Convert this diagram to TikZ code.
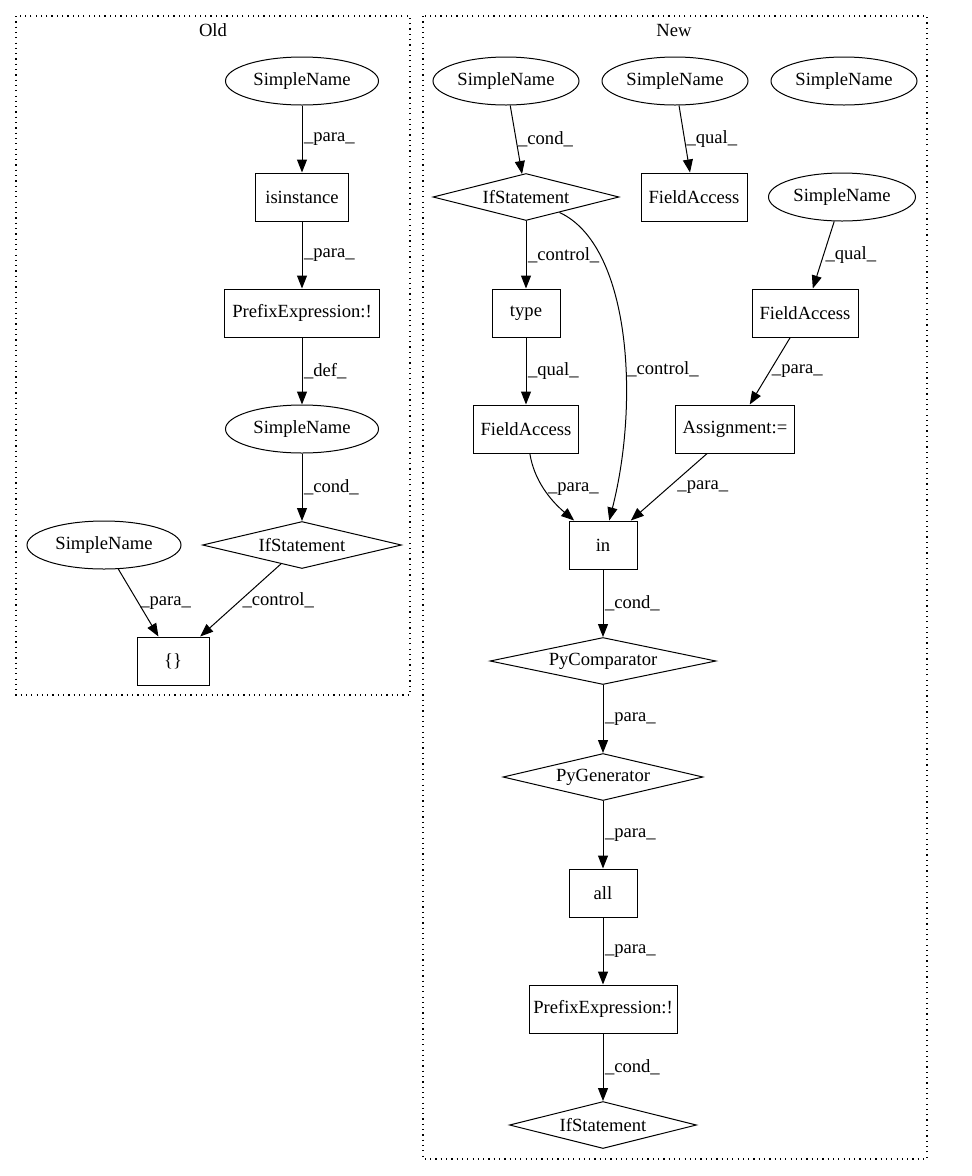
\documentclass[tikz,border=0pt]{standalone}
\usepackage{fontspec}
\setmainfont{Liberation Serif}
\usepackage{tikz}
\usetikzlibrary{arrows.meta, shapes.geometric}
\tikzstyle{arr}=[-{Triangle[length=13pt,width=10pt]},line width=1pt]
\tikzstyle{clus}=[line width=1.2pt,dash pattern=on 1.2pt off 4.1pt]
\tikzstyle{sname}=[ellipse,draw,line width=1pt,minimum width=150pt,minimum height=48pt,inner sep=0pt]
\tikzstyle{op}=[rectangle,draw,line width=1pt,minimum height=48pt,inner sep=0pt]
\tikzstyle{stmt}=[diamond,draw,line width=1pt,aspect=4,minimum height=47pt,inner sep=0pt]
\tikzstyle{lbl}=[right,inner sep=1.5pt]

\begin{document}
\begin{tikzpicture}[x=1pt,y=-1pt,font=\fontsize{18.6pt}{21pt}\selectfont]
  \useasboundingbox (0,0) rectangle (972,1176);
  % clusters
  \draw[clus] (16,16) rectangle (410,695);
  \draw[clus] (423,16) rectangle (927,1159);
  \node (oldlbl) at (213,30) {Old};
  \node (newlbl) at (674,30) {New};

  % Old
  \node[sname,minimum width=153pt] (osn1) at (302,81) {SimpleName};
  \node[op,minimum width=93pt] (oinst) at (302,197) {isinstance};
  \node[op,minimum width=155pt] (oprefix) at (302,313) {PrefixExpression:!};
  \node[sname,minimum width=153pt] (osn2) at (302,429) {SimpleName};
  \node[stmt,minimum width=199pt] (oif) at (302,545) {IfStatement};
  \node[sname,minimum width=154pt] (osn3) at (104,545) {SimpleName};
  \node[op,minimum width=72pt] (oblock) at (173,661) {\{\}};

  \draw[arr] (osn1) -- node[lbl] {\_para\_} (oinst);
  \draw[arr] (oinst) -- node[lbl] {\_para\_} (oprefix);
  \draw[arr] (oprefix) -- node[lbl] {\_def\_} (osn2);
  \draw[arr] (osn2) -- node[lbl] {\_cond\_} (oif);
  \draw[arr] (osn3) -- node[lbl] {\_para\_} (oblock);
  \draw[arr] (oif) -- node[lbl] {\_control\_} (oblock);

  % New
  \node[sname,minimum width=146pt] (nsn1) at (506,81) {SimpleName};
  \node[sname,minimum width=146pt] (nsn2) at (675,81) {SimpleName};
  \node[sname,minimum width=146pt] (nsn3) at (844,81) {SimpleName};
  \node[stmt,minimum width=186pt] (nif) at (526,197) {IfStatement};
  \node[op,minimum width=106pt] (nfa1) at (694,197) {FieldAccess};
  \node[sname,minimum width=147pt] (nsn4) at (842,197) {SimpleName};
  \node[op,minimum width=68pt] (ntype) at (526,313) {type};
  \node[op,minimum width=106pt] (nfa2) at (805,313) {FieldAccess};
  \node[op,minimum width=105pt] (nfa3) at (526,429) {FieldAccess};
  \node[op,minimum width=119pt] (nassign) at (735,429) {Assignment:=};
  \node[op,minimum width=68pt] (nin) at (603,545) {in};
  \node[stmt,minimum width=226pt] (ncomp) at (603,661) {PyComparator};
  \node[stmt,minimum width=200pt] (ngen) at (603,777) {PyGenerator};
  \node[op,minimum width=68pt] (nall) at (603,893) {all};
  \node[op,minimum width=148pt] (nprefix) at (603,1009) {PrefixExpression:!};
  \node[stmt,minimum width=187pt] (nif2) at (603,1125) {IfStatement};

  \draw[arr] (nsn1) -- node[lbl] {\_cond\_} (nif);
  \draw[arr] (nsn2) -- node[lbl] {\_qual\_} (nfa1);
  \draw[arr] (nsn4) -- node[lbl] {\_qual\_} (nfa2);
  \draw[arr] (nif) -- node[lbl] {\_control\_} (ntype);
  \draw[arr] (nif) .. controls (630,245) and (640,400) .. node[lbl,pos=0.6] {\_control\_} (nin);
  \draw[arr] (ntype) -- node[lbl] {\_qual\_} (nfa3);
  \draw[arr] (nfa2) -- node[lbl] {\_para\_} (nassign);
  \draw[arr] (nfa3) .. controls (534,480) and (550,500) .. node[lbl,inner sep=3pt] {\_para\_} (nin);
  \draw[arr] (nassign) -- node[lbl,inner sep=8pt] {\_para\_} (nin);
  \draw[arr] (nin) -- node[lbl] {\_cond\_} (ncomp);
  \draw[arr] (ncomp) -- node[lbl] {\_para\_} (ngen);
  \draw[arr] (ngen) -- node[lbl] {\_para\_} (nall);
  \draw[arr] (nall) -- node[lbl] {\_para\_} (nprefix);
  \draw[arr] (nprefix) -- node[lbl] {\_cond\_} (nif2);
\end{tikzpicture}
\end{document}
